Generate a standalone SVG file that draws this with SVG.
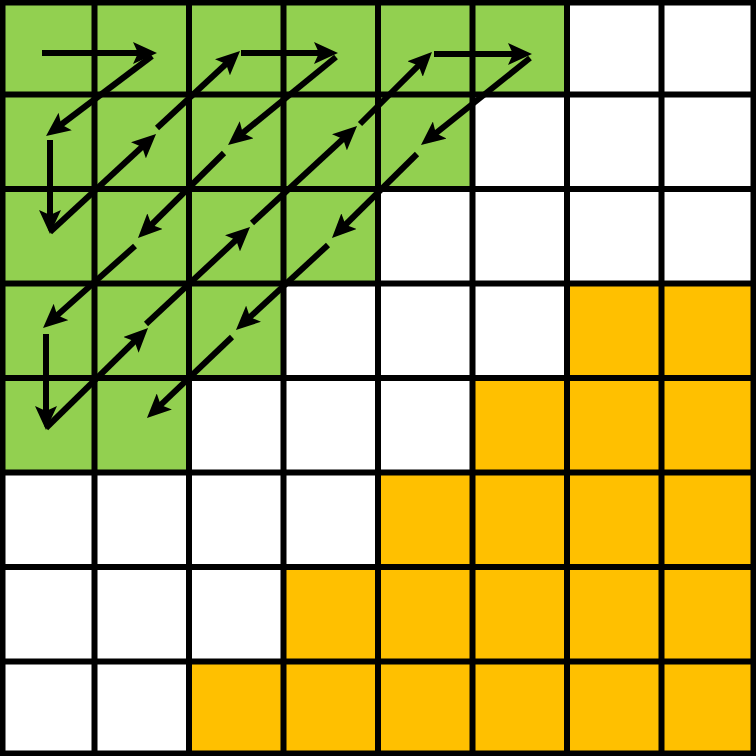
<svg xmlns="http://www.w3.org/2000/svg" width="756" height="756" viewBox="0 0 756 756">
  <style>
    .grid line { stroke: #000; stroke-width: 6; }
    .arrows line { stroke: #000; stroke-width: 6; fill: none; marker-end: url(#ah); }
  </style>
  <defs>
    <marker id="ah" markerUnits="userSpaceOnUse" markerWidth="24" markerHeight="22" viewBox="0 0 24 22" refX="14" refY="11" orient="auto">
      <path d="M0,0 L24,11 L0,22 L5,11 z" fill="#000"/>
    </marker>
  </defs>
  <rect x="0" y="0" width="756" height="756" fill="#fff"/>
  <g id="green-region">
    <polygon fill="#92D050" points="0,0 567,0 567,94.5 472.5,94.5 472.5,189 378,189 378,283.5 283.5,283.5 283.5,378 189,378 189,472.5 0,472.5"/>
  </g>
  <g id="orange-region">
    <polygon fill="#FFC000" points="567,283.5 756,283.5 756,756 189,756 189,661.5 283.5,661.5 283.5,567 378,567 378,472.5 472.5,472.5 472.5,378 567,378"/>
  </g>
  <g id="grid" class="grid">
    <line x1="2.5" y1="0" x2="2.5" y2="756"/>
    <line x1="94.5" y1="0" x2="94.5" y2="756"/>
    <line x1="189" y1="0" x2="189" y2="756"/>
    <line x1="283.5" y1="0" x2="283.5" y2="756"/>
    <line x1="378" y1="0" x2="378" y2="756"/>
    <line x1="472.5" y1="0" x2="472.5" y2="756"/>
    <line x1="567" y1="0" x2="567" y2="756"/>
    <line x1="661.5" y1="0" x2="661.5" y2="756"/>
    <line x1="753.5" y1="0" x2="753.5" y2="756"/>
    <line y1="2.5" x1="0" y2="2.5" x2="756"/>
    <line y1="94.5" x1="0" y2="94.5" x2="756"/>
    <line y1="189" x1="0" y2="189" x2="756"/>
    <line y1="283.5" x1="0" y2="283.5" x2="756"/>
    <line y1="378" x1="0" y2="378" x2="756"/>
    <line y1="472.5" x1="0" y2="472.5" x2="756"/>
    <line y1="567" x1="0" y2="567" x2="756"/>
    <line y1="661.5" x1="0" y2="661.5" x2="756"/>
    <line y1="753.5" x1="0" y2="753.5" x2="756"/>
  </g>
  <g id="connectors" class="arrows">
    <line x1="42" y1="53" x2="147" y2="53"/>
    <line x1="152" y1="56" x2="54" y2="130"/>
    <line x1="50" y1="140" x2="50" y2="224"/>
    <line x1="50" y1="232" x2="148.7" y2="140.8"/>
    <line x1="157" y1="128" x2="232.7" y2="57.8"/>
    <line x1="241" y1="53" x2="328" y2="53"/>
    <line x1="336" y1="57" x2="235.8" y2="138.7"/>
    <line x1="224" y1="153" x2="145.1" y2="231"/>
    <line x1="135" y1="246" x2="50.5" y2="321.3"/>
    <line x1="46" y1="334" x2="46" y2="420"/>
    <line x1="46" y1="428" x2="140.9" y2="335"/>
    <line x1="146" y1="324" x2="242.7" y2="233.8"/>
    <line x1="252" y1="223" x2="349.7" y2="132.8"/>
    <line x1="360" y1="124" x2="424.9" y2="59.1"/>
    <line x1="434" y1="54" x2="522" y2="54"/>
    <line x1="530" y1="58" x2="428.8" y2="138.8"/>
    <line x1="417" y1="154" x2="339.1" y2="231"/>
    <line x1="328" y1="245" x2="243.3" y2="323.2"/>
    <line x1="232" y1="337" x2="154.2" y2="411.1"/>
  </g>
</svg>
